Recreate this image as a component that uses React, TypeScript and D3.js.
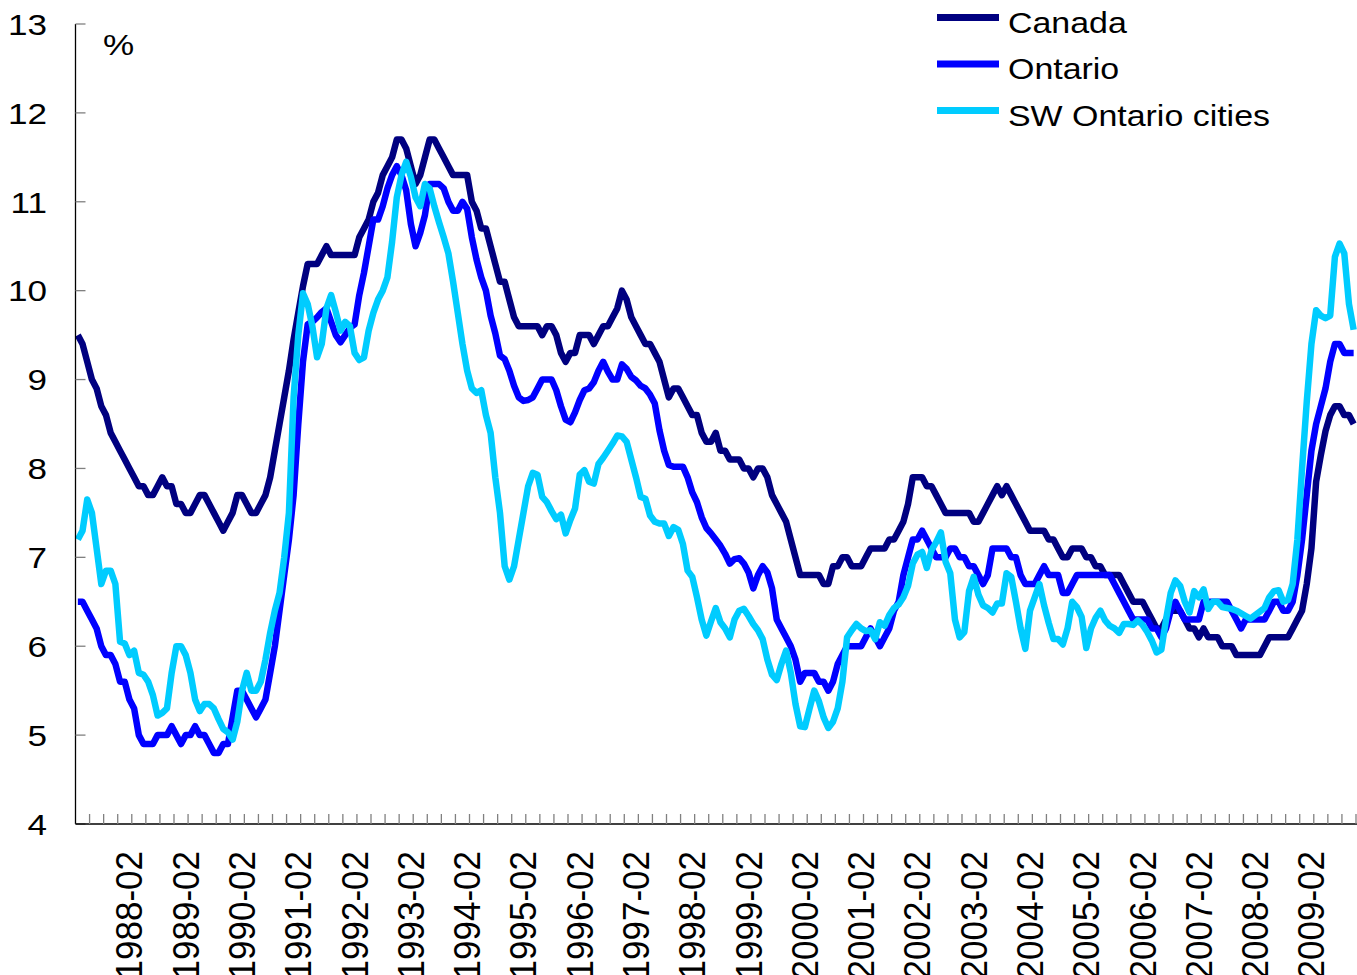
import React from 'react';
import * as d3 from 'd3';

// Monthly categories 1987-03 .. 2009-11 (3-month moving averages)
const MONTHS: string[] = d3.timeMonth
  .range(new Date(1987, 2, 1), new Date(2009, 11, 1))
  .map(d3.timeFormat('%Y-%m'));

const X_LABELS = [
  '1988-02', '1989-02', '1990-02', '1991-02', '1992-02', '1993-02', '1994-02', '1995-02',
  '1996-02', '1997-02', '1998-02', '1999-02', '2000-02', '2001-02', '2002-02', '2003-02',
  '2004-02', '2005-02', '2006-02', '2007-02', '2008-02', '2009-02',
];

const Y_TICKS = [4, 5, 6, 7, 8, 9, 10, 11, 12, 13];

const CANADA = [
  9.5, 9.4, 9.2, 9.0, 8.9, 8.7, 8.6, 8.4, 8.3, 8.2,
  8.1, 8.0, 7.9, 7.8, 7.8, 7.7, 7.7, 7.8, 7.9, 7.8,
  7.8, 7.6, 7.6, 7.5, 7.5, 7.6, 7.7, 7.7, 7.6, 7.5,
  7.4, 7.3, 7.4, 7.5, 7.7, 7.7, 7.6, 7.5, 7.5, 7.6,
  7.7, 7.9, 8.2, 8.5, 8.8, 9.1, 9.45, 9.75, 10.05, 10.3,
  10.3, 10.3, 10.4, 10.5, 10.4, 10.4, 10.4, 10.4, 10.4, 10.4,
  10.6, 10.7, 10.8, 11.0, 11.1, 11.3, 11.4, 11.5, 11.7, 11.7,
  11.6, 11.4, 11.2, 11.3, 11.5, 11.7, 11.7, 11.6, 11.5, 11.4,
  11.3, 11.3, 11.3, 11.3, 11.0, 10.9, 10.7, 10.7, 10.5, 10.3,
  10.1, 10.1, 9.9, 9.7, 9.6, 9.6, 9.6, 9.6, 9.6, 9.5,
  9.6, 9.6, 9.5, 9.3, 9.2, 9.3, 9.3, 9.5, 9.5, 9.5,
  9.4, 9.5, 9.6, 9.6, 9.7, 9.8, 10.0, 9.9, 9.7, 9.6,
  9.5, 9.4, 9.4, 9.3, 9.2, 9.0, 8.8, 8.9, 8.9, 8.8,
  8.7, 8.6, 8.6, 8.4, 8.3, 8.3, 8.4, 8.2, 8.2, 8.1,
  8.1, 8.1, 8.0, 8.0, 7.9, 8.0, 8.0, 7.9, 7.7, 7.6,
  7.5, 7.4, 7.2, 7.0, 6.8, 6.8, 6.8, 6.8, 6.8, 6.7,
  6.7, 6.9, 6.9, 7.0, 7.0, 6.9, 6.9, 6.9, 7.0, 7.1,
  7.1, 7.1, 7.1, 7.2, 7.2, 7.3, 7.4, 7.6, 7.9, 7.9,
  7.9, 7.8, 7.8, 7.7, 7.6, 7.5, 7.5, 7.5, 7.5, 7.5,
  7.5, 7.4, 7.4, 7.5, 7.6, 7.7, 7.8, 7.7, 7.8, 7.7,
  7.6, 7.5, 7.4, 7.3, 7.3, 7.3, 7.3, 7.2, 7.2, 7.1,
  7.0, 7.0, 7.1, 7.1, 7.1, 7.0, 7.0, 6.9, 6.9, 6.8,
  6.8, 6.8, 6.8, 6.7, 6.6, 6.5, 6.5, 6.5, 6.4, 6.3,
  6.2, 6.2, 6.3, 6.4, 6.4, 6.4, 6.3, 6.2, 6.2, 6.1,
  6.2, 6.1, 6.1, 6.1, 6.0, 6.0, 6.0, 5.9, 5.9, 5.9,
  5.9, 5.9, 5.9, 6.0, 6.1, 6.1, 6.1, 6.1, 6.1, 6.2,
  6.3, 6.4, 6.7, 7.1, 7.85, 8.15, 8.42, 8.6, 8.7, 8.7,
  8.6, 8.6, 8.5,
];

const ONTARIO = [
  6.5, 6.5, 6.4, 6.3, 6.2, 6.0, 5.9, 5.9, 5.8, 5.6,
  5.6, 5.4, 5.3, 5.0, 4.9, 4.9, 4.9, 5.0, 5.0, 5.0,
  5.1, 5.0, 4.9, 5.0, 5.0, 5.1, 5.0, 5.0, 4.9, 4.8,
  4.8, 4.9, 4.9, 5.2, 5.5, 5.5, 5.4, 5.3, 5.2, 5.3,
  5.4, 5.7, 6.0, 6.4, 6.8, 7.2, 7.7, 8.5, 9.2, 9.62,
  9.65, 9.7, 9.76, 9.8, 9.65, 9.5, 9.42, 9.5, 9.58, 9.62,
  9.95, 10.2, 10.5, 10.8, 10.8, 10.95, 11.15, 11.3, 11.4, 11.3,
  11.13, 10.75, 10.5, 10.65, 10.85, 11.2, 11.2, 11.2, 11.15, 11.0,
  10.9, 10.9, 11.0, 10.92, 10.6, 10.35, 10.15, 10.0, 9.72, 9.52,
  9.27, 9.23, 9.1, 8.93, 8.8, 8.76, 8.77, 8.8, 8.9, 9.0,
  9.0, 9.0, 8.88, 8.7, 8.55, 8.52, 8.63, 8.77, 8.88, 8.9,
  8.97, 9.1, 9.2, 9.09, 9.0, 9.0, 9.17, 9.12, 9.03, 8.99,
  8.93, 8.9, 8.83, 8.73, 8.43, 8.2, 8.04, 8.02, 8.02, 8.02,
  7.9, 7.73, 7.62, 7.45, 7.33, 7.27, 7.2, 7.13, 7.04, 6.93,
  6.98, 6.99, 6.93, 6.83, 6.65, 6.8, 6.9, 6.83, 6.65, 6.3,
  6.2, 6.1, 6.0, 5.85, 5.6, 5.7, 5.7, 5.7, 5.6, 5.6,
  5.5, 5.6, 5.8, 5.9, 6.0, 6.0, 6.0, 6.0, 6.1, 6.2,
  6.1, 6.0, 6.1, 6.2, 6.4, 6.5, 6.8, 7.0, 7.2, 7.2,
  7.3, 7.2, 7.1, 7.0, 7.0, 7.0, 7.1, 7.1, 7.0, 7.0,
  6.9, 6.9, 6.8, 6.7, 6.8, 7.1, 7.1, 7.1, 7.1, 7.0,
  7.0, 6.8, 6.7, 6.7, 6.7, 6.8, 6.9, 6.8, 6.8, 6.8,
  6.6, 6.6, 6.7, 6.8, 6.8, 6.8, 6.8, 6.8, 6.8, 6.8,
  6.8, 6.7, 6.6, 6.5, 6.4, 6.3, 6.3, 6.3, 6.3, 6.2,
  6.2, 6.1, 6.2, 6.4, 6.5, 6.4, 6.3, 6.3, 6.3, 6.3,
  6.5, 6.5, 6.5, 6.5, 6.5, 6.5, 6.4, 6.3, 6.2, 6.3,
  6.3, 6.3, 6.3, 6.3, 6.4, 6.5, 6.5, 6.4, 6.4, 6.5,
  6.8, 7.2, 7.7, 8.2, 8.5, 8.7, 8.9, 9.2, 9.4, 9.4,
  9.3, 9.3, 9.3,
];

const SW_ONTARIO = [
  7.2, 7.3, 7.65, 7.5, 7.1, 6.7, 6.85, 6.85, 6.7, 6.05,
  6.03, 5.9, 5.95, 5.7, 5.68, 5.6, 5.45, 5.22, 5.25, 5.3,
  5.7, 6.0, 6.0, 5.9, 5.7, 5.4, 5.27, 5.35, 5.35, 5.3,
  5.18, 5.07, 5.03, 4.95, 5.15, 5.5, 5.7, 5.5, 5.5, 5.6,
  5.85, 6.15, 6.4, 6.6, 7.0, 7.5, 8.8, 9.5, 9.97, 9.85,
  9.6, 9.25, 9.4, 9.8, 9.95, 9.76, 9.55, 9.65, 9.6, 9.3,
  9.22, 9.25, 9.55, 9.75, 9.9, 10.0, 10.15, 10.55, 11.05, 11.3,
  11.45, 11.28, 11.05, 10.95, 11.2, 11.15, 10.95, 10.77, 10.6, 10.42,
  10.1, 9.75, 9.4, 9.1, 8.9, 8.85, 8.88, 8.6, 8.4, 7.9,
  7.5, 6.9, 6.75, 6.9, 7.2, 7.5, 7.8, 7.95, 7.93, 7.68,
  7.62, 7.52, 7.43, 7.48, 7.27, 7.42, 7.55, 7.93, 7.98, 7.85,
  7.83, 8.05, 8.12, 8.2, 8.28, 8.37, 8.36, 8.3, 8.1, 7.9,
  7.68, 7.66, 7.47, 7.4, 7.38, 7.38, 7.24, 7.34, 7.31, 7.15,
  6.85, 6.78, 6.55, 6.3, 6.12, 6.28, 6.43, 6.27, 6.2, 6.1,
  6.3, 6.4, 6.42, 6.34, 6.25, 6.18, 6.08, 5.85, 5.68, 5.62,
  5.8, 5.95, 5.7, 5.35, 5.1, 5.09, 5.3, 5.5, 5.38, 5.2,
  5.08, 5.15, 5.3, 5.6, 6.1, 6.18, 6.25, 6.2, 6.17, 6.18,
  6.08, 6.27, 6.23, 6.35, 6.43, 6.47, 6.55, 6.68, 6.93, 7.03,
  7.06, 6.88, 7.08, 7.17, 7.28, 6.95, 6.82, 6.3, 6.1, 6.16,
  6.62, 6.78, 6.58, 6.46, 6.43, 6.38, 6.48, 6.48, 6.82, 6.78,
  6.5, 6.2, 5.97, 6.4, 6.55, 6.7, 6.46, 6.26, 6.08, 6.08,
  6.02, 6.2, 6.5, 6.44, 6.33, 5.98, 6.2, 6.32, 6.4, 6.29,
  6.23, 6.2, 6.15, 6.25, 6.25, 6.24, 6.29, 6.24, 6.16, 6.06,
  5.93, 5.96, 6.3, 6.6, 6.74, 6.68, 6.5, 6.38, 6.62, 6.55,
  6.64, 6.42, 6.5, 6.5, 6.44, 6.43, 6.42, 6.4, 6.37, 6.34,
  6.31, 6.35, 6.39, 6.43, 6.55, 6.62, 6.63, 6.5, 6.52, 6.7,
  7.2, 8.0, 8.75, 9.4, 9.78, 9.72, 9.69, 9.72, 10.38, 10.53,
  10.42, 9.85, 9.56,
];

const SERIES_NAMES = ['Canada', 'Ontario', 'SW Ontario cities'];
const SERIES_COLORS = ['#000080', '#0000FF', '#00CCFF'];
const SERIES_VALUES = [CANADA, ONTARIO, SW_ONTARIO];

const FONT = '"Liberation Sans", Arial, Helvetica, sans-serif';
const STRETCH = 1.17; // horizontal text stretch seen in the reference

export default function App() {
  const W = 1357;
  const H = 975;
  const left = 75.5;
  const right = 1356;
  const top = 24;
  const bottom = 824;

  const x = d3.scaleBand<string>().domain(MONTHS).range([left, right]).padding(0);
  const y = d3.scaleLinear().domain([4, 13]).range([bottom, top]);
  const cx = (i: number) => (x(MONTHS[i]) as number) + x.bandwidth() / 2;

  const line = d3
    .line<number>()
    .x((_, i) => cx(i))
    .y((v) => y(v));

  const tickPositions: number[] = [];
  for (let k = 3; k <= MONTHS.length; k += 3) {
    tickPositions.push(k < MONTHS.length ? (x(MONTHS[k]) as number) : right);
  }

  const legendY = [17.5, 64, 110.5];

  return (
    <svg
      width={W}
      height={H}
      style={{ position: 'absolute', left: 0, top: 0, display: 'block', background: '#fff' }}
      fontFamily={FONT}
    >
      {/* series */}
      {SERIES_VALUES.map((vals, si) => (
        <path
          key={SERIES_NAMES[si]}
          d={line(vals) || ''}
          fill="none"
          stroke={SERIES_COLORS[si]}
          strokeWidth={6.5}
          strokeLinejoin="round"
          strokeLinecap="butt"
        />
      ))}

      {/* y axis */}
      <line x1={left} x2={left} y1={top} y2={bottom} stroke="#000" strokeWidth={1.3} />
      {Y_TICKS.map((t) => (
        <g key={t}>
          <line x1={left} x2={left + 10} y1={y(t)} y2={y(t)} stroke="#808080" strokeWidth={1.3} />
          <text
            transform={`translate(47,${y(t)}) scale(${STRETCH},1)`}
            dy="0.36em"
            textAnchor="end"
            fontSize={30}
            fill="#000"
          >
            {t}
          </text>
        </g>
      ))}
      <text transform={`translate(103,55) scale(${STRETCH},1)`} fontSize={30} fill="#000">%</text>

      {/* x axis */}
      <line x1={left} x2={W} y1={bottom} y2={bottom} stroke="#000" strokeWidth={1.3} />
      {tickPositions.map((p, i) => (
        <line key={i} x1={p} x2={p} y1={bottom} y2={bottom - 10} stroke="#808080" strokeWidth={1.3} />
      ))}
      {X_LABELS.map((lab) => {
        const idx = MONTHS.indexOf(lab);
        const px = cx(idx) - 0.5;
        return (
          <text
            key={lab}
            transform={`translate(${px},851) scale(1.07,1) rotate(-90)`}
            textAnchor="end"
            dy="0.36em"
            fontSize={35}
            fill="#000"
          >
            {lab}
          </text>
        );
      })}

      {/* legend */}
      {SERIES_NAMES.map((name, i) => (
        <g key={name}>
          <line x1={937} x2={999} y1={legendY[i]} y2={legendY[i]} stroke={SERIES_COLORS[i]} strokeWidth={7} />
          <text
            transform={`translate(1008,${legendY[i] + 15}) scale(${STRETCH},1)`}
            fontSize={29}
            fill="#000"
          >
            {name}
          </text>
        </g>
      ))}
    </svg>
  );
}
